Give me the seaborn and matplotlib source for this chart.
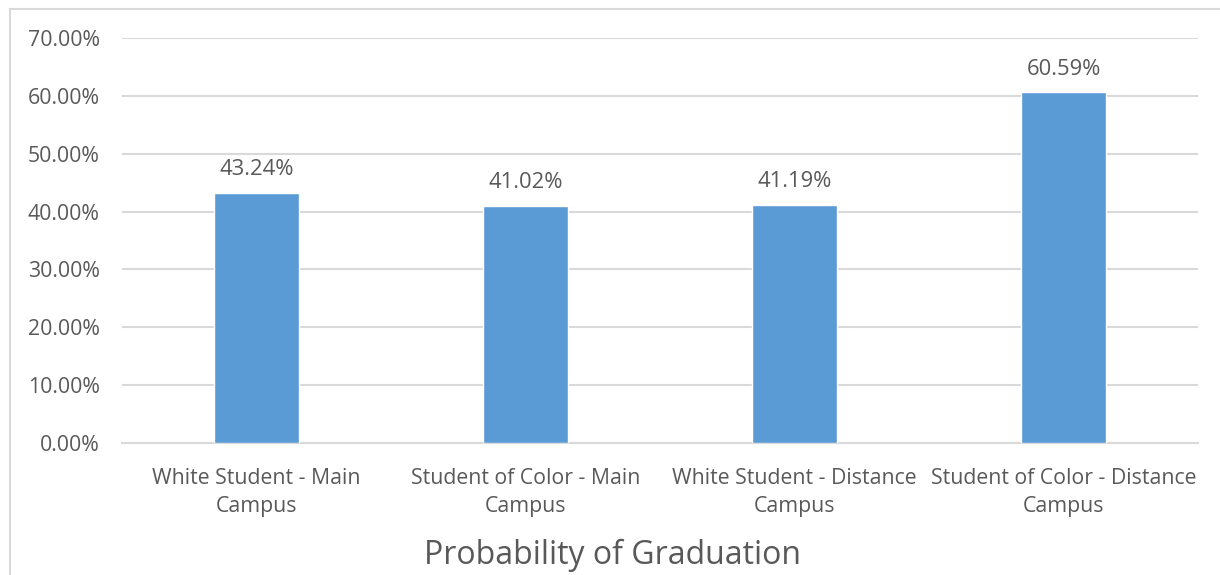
"""Probability of graduation by student group and campus."""

import matplotlib.pyplot as plt
import pandas as pd
import seaborn as sns
from matplotlib.patches import Rectangle
from matplotlib.ticker import PercentFormatter

groups = [
    "White Student - Main\nCampus",
    "Student of Color - Main\nCampus",
    "White Student - Distance\nCampus",
    "Student of Color - Distance\nCampus",
]
grad_rate = [43.24, 41.02, 41.19, 60.59]

BAR = "#5B9BD5"
TEXT = "#595959"
GRID = "#D9D9D9"

sns.set_theme(style="white")
plt.rcParams["font.family"] = ["Open Sans", "DejaVu Sans"]

frame = pd.DataFrame({"group": groups, "rate": grad_rate})

fig = plt.figure(figsize=(12.2, 5.75), dpi=100)
ax = fig.add_axes([0.100, 0.2296, 0.882, 0.7044])

sns.barplot(data=frame, x="group", y="rate", color=BAR, width=0.316,
            saturation=1, ax=ax, zorder=3)

ax.set_ylim(0, 70)
ax.set_yticks(range(0, 71, 10))
ax.yaxis.set_major_formatter(PercentFormatter(decimals=2))
ax.grid(axis="y", color=GRID, linewidth=1.5, zorder=0)
ax.set_axisbelow(True)
for side in ["top", "right", "left"]:
    ax.spines[side].set_visible(False)
ax.spines["bottom"].set_color(GRID)
ax.spines["bottom"].set_linewidth(1.5)
ax.tick_params(axis="y", length=0, labelsize=15.3, labelcolor=TEXT, pad=16)
ax.tick_params(axis="x", length=0, labelsize=15.3, labelcolor=TEXT, pad=18)
for label in ax.get_xticklabels():
    label.set_linespacing(1.45)

for container in ax.containers:
    ax.bar_label(container, labels=[f"{v:.2f}%" for v in grad_rate],
                 padding=9, fontsize=15.8, color=TEXT)

ax.set_ylabel("")
ax.set_xlabel("")
fig.text(0.502, 1 - 555 / 575, "Probability of Graduation", fontsize=23,
         color=TEXT, ha="center", va="center")

fig.patches.append(Rectangle((10 / 1220, -0.1), 1.2, 1 - 9 / 575 + 0.1,
                             transform=fig.transFigure, fill=False,
                             edgecolor=GRID, linewidth=1.5))

fig.savefig("out.png", dpi=100)
